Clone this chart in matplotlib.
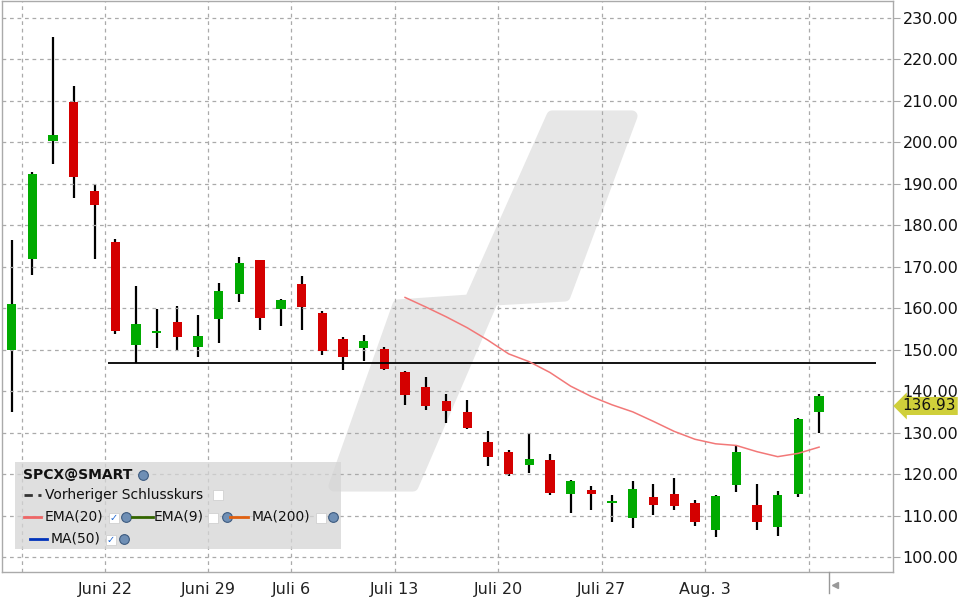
import matplotlib
matplotlib.use("Agg")
import matplotlib.pyplot as plt
from matplotlib.patches import Rectangle, Polygon
from matplotlib.lines import Line2D
import matplotlib.transforms as mtransforms

# ---------------- data ----------------
opens  = [150.0, 171.9, 200.4, 209.8, 188.3, 176.0, 151.2, 154.1, 156.7, 150.7,
          157.5, 163.5, 171.6, 159.9, 165.8, 158.9, 152.6, 150.5, 150.2, 144.6,
          141.0, 137.6, 135.0, 127.7, 125.3, 122.3, 123.4, 115.3, 116.2, 113.0,
          109.5, 114.5, 115.2, 113.0, 106.6, 117.4, 112.5, 107.3, 115.3, 135.0]
highs  = [176.5, 192.8, 225.5, 213.6, 190.0, 176.7, 165.4, 159.8, 160.5, 158.4,
          166.1, 172.4, 171.6, 162.2, 167.8, 159.3, 153.1, 153.5, 150.7, 144.9,
          143.4, 139.3, 137.9, 130.4, 125.8, 130.0, 124.8, 118.6, 117.1, 115.0,
          118.3, 117.6, 119.1, 113.7, 115.0, 126.8, 117.6, 115.9, 133.6, 139.3]
lows   = [135.0, 168.1, 194.9, 186.7, 171.9, 153.9, 146.7, 150.5, 149.9, 148.3,
          151.7, 161.6, 154.8, 155.8, 154.8, 148.8, 145.2, 147.3, 145.0, 136.7,
          135.5, 132.2, 130.8, 122.0, 119.6, 120.3, 115.0, 110.7, 111.4, 108.5,
          107.1, 110.1, 111.4, 107.5, 104.9, 115.7, 106.6, 105.1, 114.5, 130.0]
closes = [161.0, 192.4, 201.8, 191.7, 185.0, 154.6, 156.2, 154.5, 153.1, 153.3,
          164.2, 170.9, 157.7, 162.0, 160.4, 149.6, 148.3, 152.1, 145.4, 139.1,
          136.3, 135.3, 131.2, 124.2, 120.1, 123.6, 115.5, 118.3, 115.3, 113.4,
          116.4, 112.6, 112.4, 108.5, 114.7, 125.3, 108.5, 115.0, 133.3, 138.9]

ema20_start = 19
ema20 = [162.6, 160.3, 157.9, 155.3, 152.3, 149.0, 147.1, 144.5, 141.2, 138.7,
         136.7, 135.0, 132.7, 130.3, 128.4, 127.3, 126.9, 125.4, 124.2, 125.0, 126.5]

week_first_index = [1, 5, 10, 14, 19, 24, 29, 34, 39]
week_labels = ["", "Juni 22", "Juni 29", "Juli 6", "Juli 13", "Juli 20",
               "Juli 27", "Aug. 3", ""]
y_ticks = list(range(100, 240, 10))

support_level = 146.8
support_from = 4.65
support_to = 41.75
last_price = 136.93
symbol = "SPCX@SMART"

# ---------------- figure ----------------
W, H = 960, 600
fig = plt.figure(figsize=(9.6, 6.0), dpi=100)
fig.patch.set_facecolor("white")
ax = fig.add_axes([2 / W, 1 - 572 / H, 891 / W, 571 / H])
ax.set_xlim(-0.47, 42.57)
ax.set_ylim(96.38, 234.1)

def px(x, y):
    return (x / W, 1 - y / H)

GREEN = "#00aa00"
RED = "#d40000"

# watermark (decorative)
wm = [(552, 116), (632, 116), (565, 296), (493, 300), (413, 486), (334, 486),
      (398, 305), (470, 300)]
wm_poly = Polygon([px(*p) for p in wm], closed=True, transform=fig.transFigure,
                  fc="#e7e7e7", ec="#e7e7e7", lw=8, joinstyle="round", zorder=0.5)
ax.add_artist(wm_poly)

# grid
ax.set_yticks(y_ticks)
ax.set_yticklabels([f"{v:.2f}" for v in y_ticks])
grid_x = [i - 0.5 for i in week_first_index]
ax.set_xticks(grid_x)
ax.set_xticklabels(week_labels)
ax.grid(True, color="#aaaaaa", linestyle=(0, (3, 3)), linewidth=0.9, zorder=1)
ax.set_axisbelow(False)
for gl in ax.get_xgridlines() + ax.get_ygridlines():
    gl.set_zorder(1)

ax.yaxis.tick_right()
ax.tick_params(axis="y", length=5, color="#aaaaaa", pad=2, labelsize=11.5,
               labelcolor="#111111")
ax.tick_params(axis="x", length=0, pad=7, labelsize=11.5, labelcolor="#222222")
for sp in ax.spines.values():
    sp.set_color("#aaaaaa")
    sp.set_linewidth(1.0)

# candles
bw = 0.45
for i, (o, h, l, c) in enumerate(zip(opens, highs, lows, closes)):
    col = GREEN if c >= o else RED
    ax.vlines(i, l, h, color="black", lw=1.6, zorder=2)
    bot = min(o, c)
    ht = max(abs(c - o), 0.4)
    ax.add_patch(Rectangle((i - bw / 2, bot), bw, ht, fc=col, ec="none", zorder=3))

# support line
ax.hlines(support_level, support_from, support_to, color="black", lw=1.3, zorder=4)

# EMA(20)
ax.plot(range(ema20_start, ema20_start + len(ema20)), ema20, color="#f27878",
        lw=1.1, zorder=4)

# last price label
ax.annotate(f"{last_price:.2f}", xy=(1.0, last_price),
            xycoords=("axes fraction", "data"), xytext=(7, -1.5),
            textcoords="offset points", va="center", ha="left", fontsize=11,
            color="#111111", annotation_clip=False,
            bbox=dict(boxstyle="larrow,pad=0.1", fc="#cfcf3a", ec="none"))

# small marker below axis after last candle
blend = mtransforms.blended_transform_factory(ax.transData, fig.transFigure)
xm = len(closes) - 0.5
fig.add_artist(Line2D([xm, xm], [1 - 572 / H, 1 - 593 / H], transform=blend,
                      color="#999999", lw=1))
fig.add_artist(Line2D([xm + 0.25], [1 - 585 / H], transform=blend, marker="<",
                      ms=4, color="#999999", ls="none"))

# ---------------- legend box ----------------
fig.add_artist(Rectangle(px(15, 549), 326 / W, 87 / H, transform=fig.transFigure,
                         fc="#d5d5d5", ec="none", alpha=0.75, zorder=5))

def globe(x, y):
    fig.add_artist(Line2D([x / W], [1 - y / H], transform=fig.transFigure,
                          marker="o", ms=7, mfc="#6f8fb5", mec="#3d5b80",
                          mew=0.8, ls="none", zorder=6))

def box(x, y, checked=False):
    fig.add_artist(Line2D([x / W], [1 - y / H], transform=fig.transFigure,
                          marker="s", ms=6.5, mfc="white", mec="#d0d0d0",
                          mew=0.6, ls="none", zorder=6))
    if checked:
        fig.text(x / W, 1 - y / H, "✓", ha="center", va="center", fontsize=7,
                 color="#1f66d0", fontweight="bold", zorder=7)

def seg(x0, x1, y, color, ls="-"):
    fig.add_artist(Line2D([x0 / W, x1 / W], [1 - y / H, 1 - y / H],
                          transform=fig.transFigure, color=color, lw=2,
                          ls=ls, zorder=6))

def txt(x, y, s, **kw):
    fig.text(x / W, 1 - y / H, s, ha="left", va="center", fontsize=10,
             color="#111111", zorder=6, **kw)

txt(23, 475, symbol, fontweight="bold")
globe(143, 475)
seg(24, 41, 495, "#333333", ls=(0, (3, 2)))
txt(45, 495, "Vorheriger Schlusskurs")
box(218, 495)
seg(24, 41, 517, "#ee6666")
txt(45, 517, "EMA(20)")
box(114, 518, checked=True)
globe(126, 517)
seg(132, 153, 517, "#336600")
txt(154, 517, "EMA(9)")
box(213, 518)
globe(227, 517)
seg(230, 248, 517, "#e06010")
txt(252, 517, "MA(200)")
box(321, 518)
globe(333, 517)
seg(30, 47, 539, "#0033bb")
txt(51, 539, "MA(50)")
box(111, 540, checked=True)
globe(124, 539)

fig.savefig("out.png", dpi=100)
